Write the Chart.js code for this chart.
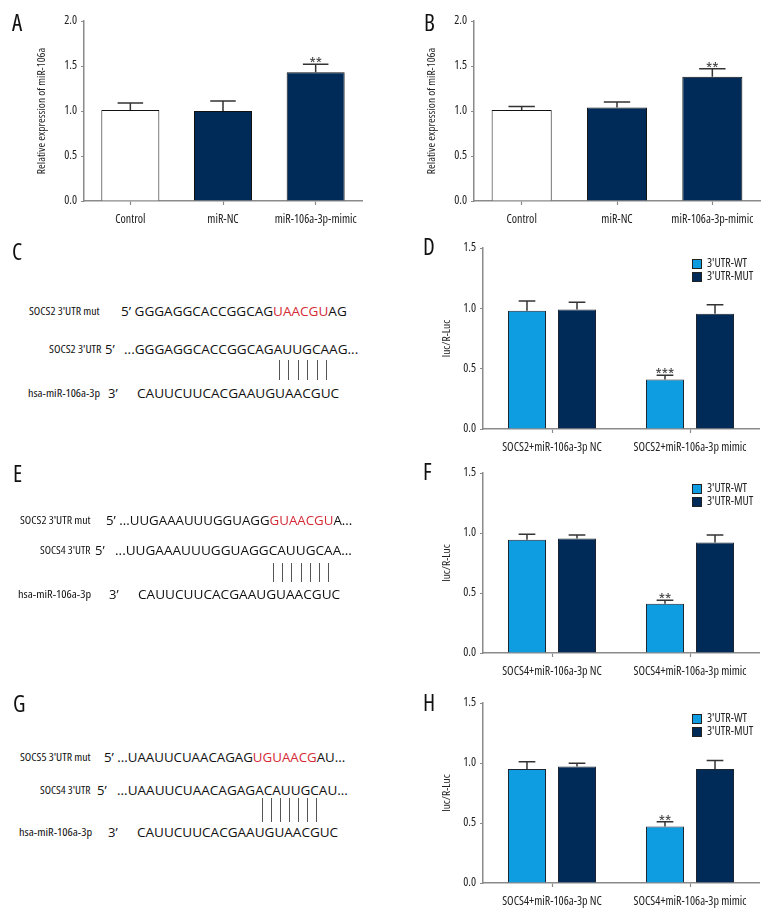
<!DOCTYPE html>
<html>
<head>
<meta charset="utf-8">
<script src="https://cdn.jsdelivr.net/npm/chart.js@4"></script>
<style>
  body { margin: 0; background: #fff; }
  #page { position: relative; width: 780px; height: 924px; overflow: hidden; }
  canvas { position: absolute; }
  .t { position: absolute; white-space: nowrap; transform-origin: 0 50%; line-height: 1; color: #111; }
  .lab { font-family: 'Open Sans', sans-serif; font-stretch: condensed; font-size: 11.5px; }
  .seq { font-family: 'Open Sans', 'Noto Sans', sans-serif; font-size: 13px; }
  .red { color: #d42a35; }
  .letter { font-family: 'Open Sans', sans-serif; font-stretch: condensed; font-size: 23px; }
  .pair { position: absolute; width: 1px; background: #555; }
</style>
</head>
<body>
<div id="page">
  <canvas id="chartA"></canvas>
  <canvas id="chartB"></canvas>
  <canvas id="chartD"></canvas>
  <canvas id="chartF"></canvas>
  <canvas id="chartH"></canvas>
</div>
<script>
// condensed Open Sans; "condensed" rides in the weight slot of Chart.js' font string
const FAM = "'Open Sans', sans-serif";
const font = size => ({ family: FAM, size, weight: "condensed" });

// ── panel A / B : relative expression of miR-106a
const exprCats = ["Control", "miR-NC", "miR-106a-3p-mimic"];
const exprTicks = [0, 0.5, 1.0, 1.5, 2.0];
const exprA = [1.01, 1.00, 1.43];
const exprAErr = [0.08, 0.11, 0.09];
const exprASig = ["", "", "**"];
const exprB = [1.01, 1.04, 1.38];
const exprBErr = [0.04, 0.06, 0.09];
const exprBSig = ["", "", "**"];

// ── panel D / F / H : luciferase
const lucSeries = ["3'UTR-WT", "3'UTR-MUT"];
const lucTicks = [0, 0.5, 1.0, 1.5];
const lucCatsD = ["SOCS2+miR-106a-3p NC", "SOCS2+miR-106a-3p mimic"];
const lucCatsF = ["SOCS4+miR-106a-3p NC", "SOCS4+miR-106a-3p mimic"];
const lucCatsH = ["SOCS4+miR-106a-3p NC", "SOCS4+miR-106a-3p mimic"];
const wtD = [0.98, 0.41], wtDErr = [0.08, 0.035], wtDSig = ["", "***"];
const mutD = [0.99, 0.955], mutDErr = [0.06, 0.075];
const wtF = [0.944, 0.41], wtFErr = [0.046, 0.03], wtFSig = ["", "**"];
const mutF = [0.955, 0.92], mutFErr = [0.028, 0.063];
const wtH = [0.95, 0.47], wtHErr = [0.06, 0.04], wtHSig = ["", "**"];
const mutH = [0.97, 0.95], mutHErr = [0.027, 0.07];

const NAVY = "#002b58", BLUE = "#0d9de0", AXIS = "#8a8a8a";

// error bars (upper only) + significance stars
const errorBars = {
  id: "errorBars",
  afterDatasetsDraw(chart) {
    const { ctx } = chart, y = chart.scales.y;
    chart.data.datasets.forEach((ds, di) => {
      chart.getDatasetMeta(di).data.forEach((bar, i) => {
        const top = y.getPixelForValue(ds.data[i] + ds.errors[i]);
        const half = bar.width * 0.22;
        ctx.save();
        ctx.strokeStyle = "#333"; ctx.lineWidth = 1.5;
        ctx.beginPath();
        ctx.moveTo(bar.x, bar.y); ctx.lineTo(bar.x, top);
        ctx.moveTo(bar.x - half, top); ctx.lineTo(bar.x + half, top);
        ctx.stroke();
        if (ds.sig && ds.sig[i]) {
          ctx.fillStyle = "#444"; ctx.font = "condensed 16px " + FAM;
          ctx.textAlign = "center"; ctx.textBaseline = "alphabetic";
          ctx.fillText(ds.sig[i], bar.x, top + 5);
        }
        ctx.restore();
      });
    });
  }
};

// small boxed legend in the top-right of the plot
const boxLegend = {
  id: "boxLegend",
  afterDraw(chart, args, opts) {
    if (!opts.display) return;
    const { ctx, chartArea: a } = chart;
    ctx.save();
    ctx.font = "condensed 12px " + FAM; ctx.textBaseline = "middle"; ctx.textAlign = "left";
    chart.data.datasets.forEach((ds, i) => {
      const x = a.right - 67, y = a.top + 11 + i * 13;
      ctx.fillStyle = ds.backgroundColor; ctx.fillRect(x, y, 10, 10);
      ctx.strokeStyle = "#222"; ctx.lineWidth = 1; ctx.strokeRect(x + 0.5, y + 0.5, 9, 9);
      ctx.fillStyle = "#222"; ctx.fillText(ds.label, x + 15, y + 5);
    });
    ctx.restore();
  }
};

function barChart(id, area, labels, datasets, ticks, title, titleX, barPct, catPct, legend) {
  const YW = 80, PT = 20, PR = 16, XH = 40;
  const cv = document.getElementById(id);
  const w = area.r - area.l + YW + PR, h = area.b - area.t + PT + XH;
  cv.width = w; cv.height = h;
  cv.style.width = w + "px"; cv.style.height = h + "px";
  cv.style.left = (area.l - YW) + "px"; cv.style.top = (area.t - PT) + "px";
  const lh = 11.5 * 1.2;
  return new Chart(cv, {
    type: "bar",
    data: { labels, datasets: datasets.map(d => Object.assign({
      borderWidth: 1, borderColor: "#1c2530", barPercentage: barPct, categoryPercentage: catPct
    }, d)) },
    options: {
      responsive: false, animation: false,
      layout: { padding: { top: PT, right: PR, bottom: 0, left: 0 } },
      plugins: { legend: { display: false }, tooltip: { enabled: false }, boxLegend: { display: legend } },
      scales: {
        x: {
          afterFit: s => { s.height = XH; },
          grid: { display: true, drawOnChartArea: false, offset: false, tickLength: 4, color: AXIS, tickWidth: 1.2 },
          border: { display: true, color: AXIS, width: 1.5 },
          ticks: { padding: 7, color: "#222", font: font(12), maxRotation: 0, autoSkip: false }
        },
        y: {
          min: ticks[0], max: ticks[ticks.length - 1],
          afterFit: s => { s.width = YW; },
          afterBuildTicks: s => { s.ticks = ticks.map(v => ({ value: v })); },
          grid: { display: true, drawOnChartArea: false, tickLength: 3, color: AXIS, tickWidth: 1.2 },
          border: { display: true, color: AXIS, width: 1.5 },
          ticks: { padding: 4, color: "#222", font: font(12), callback: v => v.toFixed(1) },
          title: { display: true, text: title, color: "#222", font: font(11.5),
                   padding: { top: titleX - (area.l - YW) - lh / 2, bottom: 0 } }
        }
      }
    },
    plugins: [errorBars, boxLegend]
  });
}

barChart("chartA", { l: 84, r: 362, t: 21, b: 201 }, exprCats, [
  { data: exprA, errors: exprAErr, sig: exprASig, backgroundColor: ["#ffffff", NAVY, NAVY], borderColor: "#111" }
], exprTicks, "Relative expression of miR-106a", 42, 0.626, 1, false);

barChart("chartB", { l: 474, r: 760, t: 21, b: 201 }, exprCats, [
  { data: exprB, errors: exprBErr, sig: exprBSig, backgroundColor: ["#ffffff", NAVY, NAVY], borderColor: "#111" }
], exprTicks, "Relative expression of miR-106a", 432, 0.63, 1, false);

function lucSets(wt, wtErr, wtSig, mut, mutErr) {
  return [
    { label: lucSeries[0], data: wt, errors: wtErr, sig: wtSig, backgroundColor: BLUE },
    { label: lucSeries[1], data: mut, errors: mutErr, backgroundColor: NAVY }
  ];
}
barChart("chartD", { l: 483, r: 759, t: 248, b: 429 }, lucCatsD,
  lucSets(wtD, wtDErr, wtDSig, mutD, mutDErr), lucTicks, "luc/R-Luc", 447, 0.76, 0.725, true);
barChart("chartF", { l: 483, r: 759, t: 473, b: 653 }, lucCatsF,
  lucSets(wtF, wtFErr, wtFSig, mutF, mutFErr), lucTicks, "luc/R-Luc", 447, 0.76, 0.725, true);
barChart("chartH", { l: 483, r: 759, t: 703, b: 883 }, lucCatsH,
  lucSets(wtH, wtHErr, wtHSig, mutH, mutHErr), lucTicks, "luc/R-Luc", 447, 0.76, 0.725, true);

// ── sequence panels C / E / G (text is stretched to the measured width)
const page = document.getElementById("page");
function txt(cls, x, y, parts, w) {
  const el = document.createElement("div");
  el.className = "t " + cls;
  parts.forEach((p, i) => {
    const s = document.createElement("span");
    if (i === 1) s.className = "red";
    s.textContent = p;
    el.appendChild(s);
  });
  page.appendChild(el);
  el.style.left = x + "px";
  el.style.top = (y - el.offsetHeight / 2) + "px";
  if (w) el.style.transform = "scaleX(" + (w / el.offsetWidth) + ")";
}
function pairs(x0, step, n, y0, y1) {
  for (let i = 0; i < n; i++) {
    const d = document.createElement("div");
    d.className = "pair";
    d.style.left = Math.round(x0 + i * step) + "px";
    d.style.top = y0 + "px"; d.style.height = (y1 - y0) + "px";
    page.appendChild(d);
  }
}

[["A", 12, 22], ["B", 424, 22], ["C", 12, 251], ["D", 423, 246],
 ["E", 13, 473], ["F", 423, 471], ["G", 13, 703], ["H", 423, 702]]
  .forEach(([l, x, y]) => txt("letter", x, y, [l]));

// C
txt("lab", 29, 311, ["SOCS2 3'UTR mut"], 71);
txt("seq", 121, 311, ["5’ GGGAGGCACCGGCAG", "UAACGU", "AG"], 226);
txt("lab", 49, 349, ["SOCS2 3'UTR"], 53);
txt("seq", 105, 349, ["5’"]);
txt("seq", 124, 349, ["...GGGAGGCACCGGCAGAUUGCAAG..."], 234);
pairs(279, 9.4, 6, 360, 380);
txt("lab", 28, 393, ["hsa-miR-106a-3p"], 72);
txt("seq", 108, 393, ["3’"]);
txt("seq", 137, 393, ["CAUUCUUCACGAAUGUAACGUC"], 202);

// E
txt("lab", 20, 520, ["SOCS2 3'UTR mut"], 71);
txt("seq", 106, 520, ["5’ ...UUGAAAUUUGGUAGG", "GUAACGU", "A..."], 246);
txt("lab", 40, 550, ["SOCS4 3'UTR"], 51);
txt("seq", 95, 550, ["5’"]);
txt("seq", 115, 550, ["...UUGAAAUUUGGUAGGCAUUGCAA..."], 237);
pairs(273, 9.2, 7, 563, 582);
txt("lab", 18, 594, ["hsa-miR-106a-3p"], 73);
txt("seq", 109, 594, ["3’"]);
txt("seq", 138, 594, ["CAUUCUUCACGAAUGUAACGUC"], 202);

// G
txt("lab", 20, 757, ["SOCS5 3'UTR mut"], 71);
txt("seq", 104, 757, ["5’ ...UAAUUCUAACAGAG", "UGUAACG", "AU..."], 241);
txt("lab", 40, 790, ["SOCS4 3'UTR"], 51);
txt("seq", 97, 790, ["5’"]);
txt("seq", 117, 790, ["...UAAUUCUAACAGAGACAUUGCAU..."], 231);
pairs(262, 9.0, 7, 798, 822);
txt("lab", 19, 832, ["hsa-miR-106a-3p"], 73);
txt("seq", 108, 832, ["3’"]);
txt("seq", 137, 832, ["CAUUCUUCACGAAUGUAACGUC"], 201);
</script>
</body>
</html>
